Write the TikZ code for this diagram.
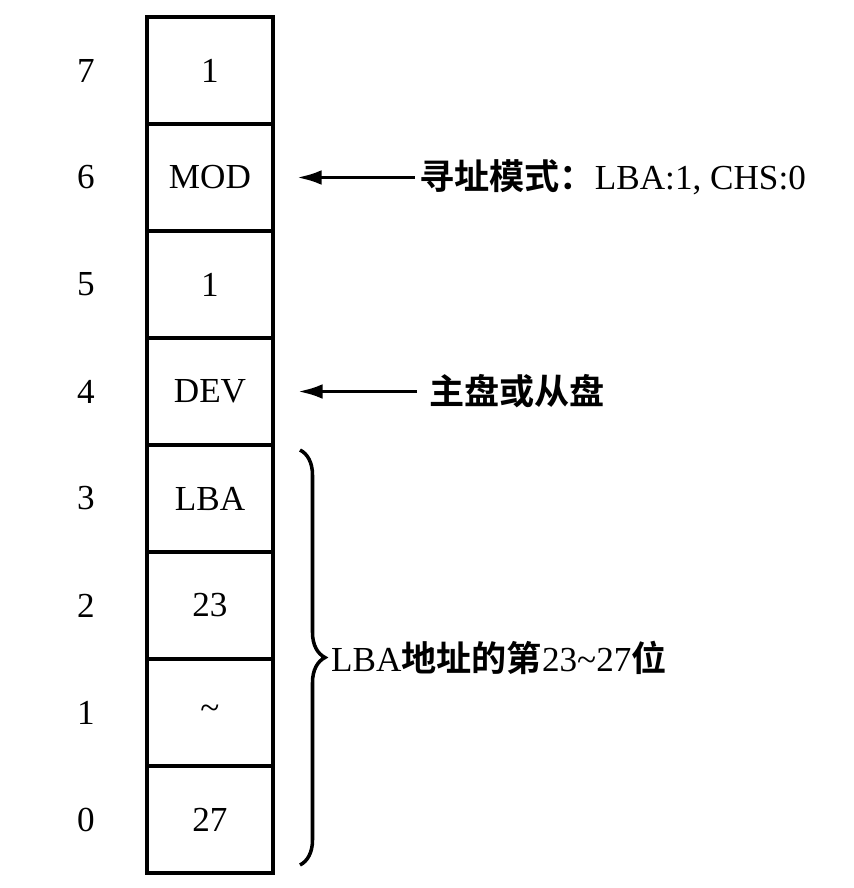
\documentclass[tikz,border=0pt]{standalone}
\usepackage{fontspec}
\setmainfont{Liberation Serif}
\newfontfamily\cjk{Noto Sans CJK SC}[UprightFont=* Bold]
\usepackage{tikz}
\usetikzlibrary{positioning}
\usetikzlibrary{arrows.meta,decorations.pathreplacing,calc}

\tikzset{
	cell/.style={draw, line width=1.1pt, minimum width=1.26cm, minimum height=1.07cm, inner sep=0pt, outer sep=0pt},
	bitno/.style={inner sep=1pt},
	note/.style={inner sep=1pt},
	pointer/.style={line width=1pt, -{Latex[length=7pt,width=4.2pt]}},
	bracket/.style={line width=1pt, decorate, decoration={brace, amplitude=2.5mm}}
}

\begin{document}
\begin{tikzpicture}
	\useasboundingbox (0,0) rectangle (8.54,8.88);
	% register cells, bit 7 on top
	\node [cell] (c7) at (2.10,8.175) {1};
	\node [cell, below=0pt of c7] (c6) {MOD};
	\node [cell, below=0pt of c6] (c5) {1};
	\node [cell, below=0pt of c5] (c4) {DEV};
	\node [cell, below=0pt of c4] (c3) {LBA};
	\node [cell, below=0pt of c3] (c2) {23};
	\node [cell, below=0pt of c2] (c1) {\textasciitilde};
	\node [cell, below=0pt of c1] (c0) {27};
	\foreach \b in {0,...,7}
		\node [bitno, left=4.8mm of c\b] (n\b) {\b};
	% notes
	\node [note, right=1.42cm of c6] (mode) {{\cjk 寻址模式：}LBA:1, CHS:0};
	\draw [pointer] (mode.west) -- ([xshift=2.4mm]c6.east);
	\node [note, right=1.52cm of c4] (drive) {\cjk 主盘或从盘};
	\draw [pointer] ([xshift=-0.8mm]drive.west) -- ([xshift=2.5mm]c4.east);
	\coordinate (btop) at ([xshift=2.7mm,yshift=-0.5mm]c3.north east);
	\coordinate (bbot) at ([xshift=2.7mm,yshift=0.8mm]c0.south east);
	\draw [bracket] (btop) -- (bbot);
	\node [note, anchor=west] (lbabits) at ($(btop)!0.5!(bbot)+(0.27,0)$) {LBA{\cjk 地址的第}23\textasciitilde27{\cjk 位}};
\end{tikzpicture}
\end{document}
